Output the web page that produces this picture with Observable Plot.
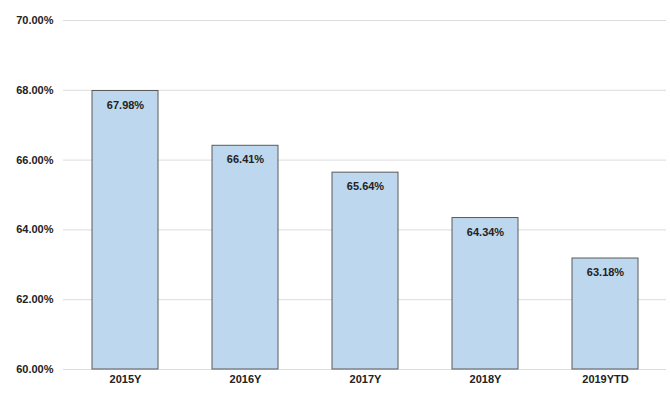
<!DOCTYPE html>
<html>
<head>
<meta charset="utf-8">
<script src="https://cdn.jsdelivr.net/npm/d3@7"></script>
<script src="https://cdn.jsdelivr.net/npm/@observablehq/plot@0.6"></script>
<style>
  html, body { margin: 0; padding: 0; background: #fff; }
  #chart svg { display: block; }
</style>
</head>
<body>
<div id="chart"></div>
<script>
const categories = ["2015Y", "2016Y", "2017Y", "2018Y", "2019YTD"];
const values = [67.98, 66.41, 65.64, 64.34, 63.18];
const yTicks = [60, 62, 64, 66, 68, 70];

const data = categories.map((c, i) => ({ cat: c, v: values[i] }));
const font = "'Liberation Sans Narrow', 'Arial Narrow', 'Liberation Sans', sans-serif";

const chart = Plot.plot({
  width: 670,
  height: 394,
  marginLeft: 63,
  marginRight: 4,
  marginTop: 20,
  marginBottom: 25,
  style: { fontFamily: font, fontSize: "11px", fontWeight: "bold", color: "#222", background: "#fff" },
  x: { domain: categories, paddingInner: 0.45, paddingOuter: 0.225, label: null, tickSize: 0, tickPadding: 6 },
  y: { domain: [60, 70], ticks: yTicks, label: null, tickSize: 0, tickPadding: 10, tickFormat: d => d.toFixed(2) + "%" },
  marks: [
    Plot.ruleY(yTicks, { stroke: "#dcdcdc", strokeWidth: 1 }),
    Plot.barY(data, { x: "cat", y1: 60, y2: "v", fill: "#bdd7ee", stroke: "#5a5a5a", strokeWidth: 1 }),
    Plot.text(data, { x: "cat", y: "v", text: d => d.v.toFixed(2) + "%", dy: 14, fill: "#222", fontWeight: "bold", fontSize: 11 }),
    Plot.axisX({ tickSize: 0, tickPadding: 6, fontWeight: "bold", fontSize: 11 }),
    Plot.axisY({ ticks: yTicks, tickSize: 0, tickPadding: 10, tickFormat: d => d.toFixed(2) + "%", fontWeight: "bold", fontSize: 11 })
  ]
});
document.getElementById("chart").appendChild(chart);
</script>
</body>
</html>
